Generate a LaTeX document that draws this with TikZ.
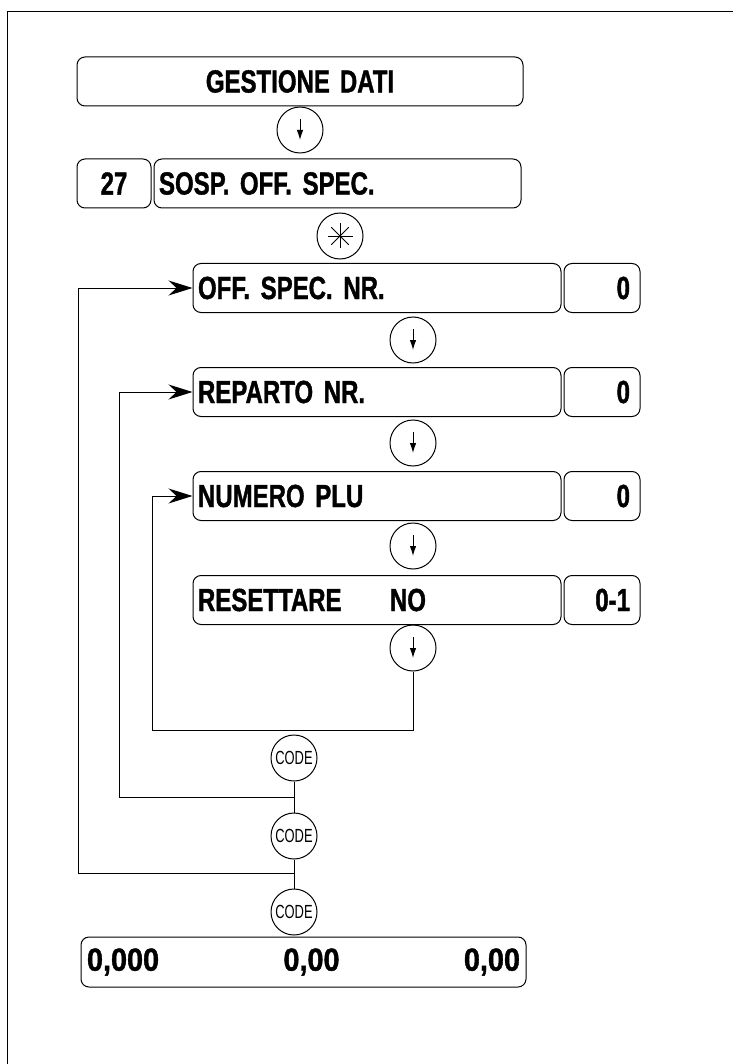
\documentclass[tikz,border=0pt]{standalone}
\usepackage{fontspec}
\usepackage{tikz}
\usetikzlibrary{arrows.meta,positioning}
\newfontfamily\lcdfamily[FakeStretch=0.75,FakeBold=1.2,WordSpace=1.5]{Liberation Sans}
\newfontfamily\numfamily[FakeStretch=0.9,FakeBold=1.2]{Liberation Sans}
\newfontfamily\keyfamily[FakeStretch=0.68]{Liberation Sans}

\begin{document}
\begin{tikzpicture}[
  x=1pt, y=-1pt,
  panel/.style={draw, rounded corners=8pt, line width=1pt, minimum height=49pt,
    inner ysep=0pt, font=\lcdfamily\bfseries\fontsize{32}{38}\selectfont},
  prompt/.style={panel, text width=358pt, inner xsep=5pt, align=left},
  value/.style={panel, text width=56pt, inner xsep=10pt, align=right},
  key/.style={draw, circle, line width=1pt, minimum size=46pt, inner sep=0pt},
  codekey/.style={key, font=\keyfamily\fontsize{19}{21}\selectfont},
  keyarr/.style={line width=1pt, -{Latex[length=10pt,width=6.5pt]}},
  wire/.style={line width=1pt},
  back/.style={wire, -{Stealth[length=24pt,width=15pt,inset=8pt]}},
  node distance=54pt and 2pt
]
  \useasboundingbox (0,0) rectangle (733,1064);

  % Page frame
  \draw[wire] (7,1064) -- (7,12) -- (733,12);

  % Menu header
  \node[panel, minimum width=446pt] (gest) at (300,81.5) {GESTIONE DATI};
  \node[key] (k1) at (300,130) {};
  \node[panel, minimum width=74pt] (nr) at (114,183.5) {27};
  \node[prompt, text width=357pt, right=of nr] (sosp) {SOSP. OFF. SPEC.};
  \node[key] (ks) at (340,236) {};

  % Prompts
  \node[prompt] (off) at (377,288) {OFF. SPEC. NR.};
  \node[value, right=of off] (offv) {0};
  \node[prompt, below=of off] (rep) {REPARTO NR.};
  \node[value, right=of rep] (repv) {0};
  \node[prompt, below=of rep] (num) {NUMERO PLU};
  \node[value, right=of num] (numv) {0};
  \node[prompt, below=of num] (res) {\makebox[192pt][l]{RESETTARE}NO};
  \node[value, right=of res] (resv) {0-1};

  % Keys
  \node[key] (k2) at (413,340) {};
  \node[key] (k3) at (413,443) {};
  \node[key] (k4) at (413,546) {};
  \node[key] (k5) at (413,648) {};
  \node[codekey] (c1) at (294,758) {CODE};
  \node[codekey] (c2) at (294,836) {CODE};
  \node[codekey] (c3) at (294,912) {CODE};

  % Display
  \node[panel, minimum height=50pt, text width=433pt, inner xsep=6pt,
    font=\numfamily\bfseries\fontsize{32}{38}\selectfont] (disp) at (303.5,962)
    {0,000\hfill 0,00\hfill 0,00};

  % Key glyphs
  \foreach \k in {k1,k2,k3,k4,k5}
    \draw[keyarr] ([yshift=11pt]\k.center) -- ([yshift=-10pt]\k.center);
  \foreach \a in {0,45,90,135}
    \draw[line width=0.9pt] ([shift={(\a:12.5pt)}]ks.center) -- ([shift={(\a+180:12.5pt)}]ks.center);

  % Return loops
  \coordinate (l1) at (152,730);
  \coordinate (l2) at (119,797);
  \coordinate (l3) at (78,873);
  \draw[back] (k5.south) |- (l1) |- (num.west);
  \draw[back] (c1.south) |- (l2) |- (rep.west);
  \draw[wire] (c1) -- (c2);
  \draw[back] (c2.south) |- (l3) |- (off.west);
  \draw[wire] (c2) -- (c3);
\end{tikzpicture}
\end{document}
